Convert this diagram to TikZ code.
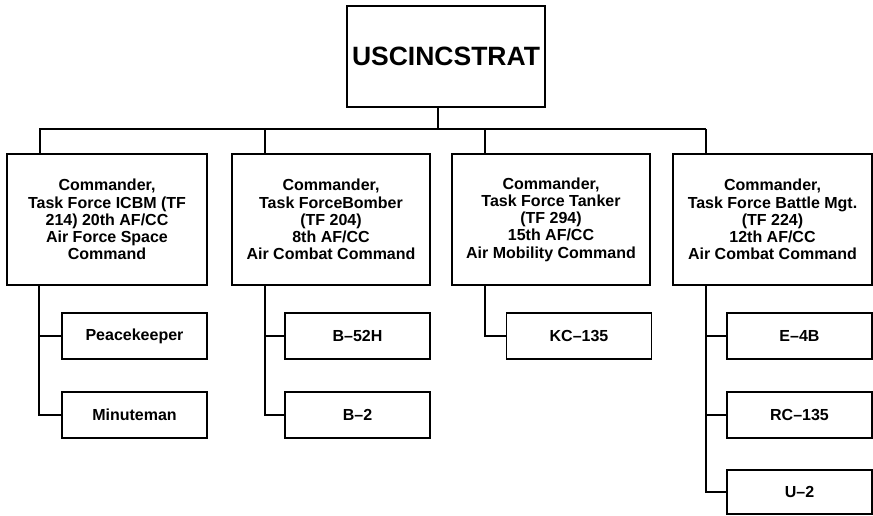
\documentclass[tikz,border=0pt]{standalone}
\usepackage{fontspec}
\setmainfont{Liberation Sans}
\begin{document}
\begin{tikzpicture}[x=1pt,y=1pt,
  line width=1.9pt,
  box/.style={draw, line width=1.9pt, inner sep=0pt, outer sep=0pt, align=center,
    font=\bfseries\fontsize{16}{17.2}\selectfont},
  cmd/.style={box, minimum height=131pt},
  leaf/.style={box, minimum width=145pt, minimum height=46pt},
  conn/.style={line width=1.9pt}]
\useasboundingbox (0,0) rectangle (873,-515);
% top
\node[box, minimum width=198pt, minimum height=101pt, font=\bfseries\fontsize{26.5}{30}\selectfont] (top) at (446,-56.5) {USCINCSTRAT};
% commanders
\node[cmd, minimum width=200pt] (c1) at (107,-219.5) {Commander,\\Task Force ICBM (TF\\214) 20th AF/CC\\Air Force Space\\Command};
\node[cmd, minimum width=198pt] (c2) at (331,-219.5) {Commander,\\Task ForceBomber\\(TF 204)\\8th AF/CC\\Air Combat Command};
\node[cmd, minimum width=198pt] (c3) at (551,-219.5) {Commander,\\Task Force Tanker\\(TF 294)\\15th AF/CC\\Air Mobility Command};
\node[cmd, minimum width=199pt] (c4) at (772.5,-219.5) {Commander,\\Task Force Battle Mgt.\\(TF 224)\\12th AF/CC\\Air Combat Command};
% leaves
\node[leaf] (pk) at (134.5,-336) {Peacekeeper};
\node[leaf] (mm) at (134.5,-415) {Minuteman};
\node[leaf] (b52) at (357.5,-336) {B–52H};
\node[leaf] (b2) at (357.5,-415) {B–2};
\node[leaf] (kc) at (579,-336) {KC–135};
\node[leaf] (e4) at (799.5,-336) {E–4B};
\node[leaf] (rc) at (799.5,-415) {RC–135};
\node[leaf, minimum height=44pt] (u2) at (799.5,-492) {U–2};
% bus
\coordinate (busL) at (39,-129);
\coordinate (busR) at (706,-129);
\draw[conn] (busL) -- (busR);
\draw[conn] ([xshift=-8pt]top.south) -- ([xshift=-8pt]top.south |- busL);
\foreach \c in {c1,c2,c3,c4}{
  \draw[conn] ([xshift=33pt]\c.north west) -- ([xshift=33pt]\c.north west |- busL);
}
% children
\draw[conn] ([xshift=32pt]c1.south west) |- (mm.west);
\draw[conn] ([xshift=32pt]c1.south west |- pk.west) -- (pk.west);
\draw[conn] ([xshift=33pt]c2.south west) |- (b2.west);
\draw[conn] ([xshift=33pt]c2.south west |- b52.west) -- (b52.west);
\draw[conn] ([xshift=33pt]c3.south west) |- (kc.west);
\draw[conn] ([xshift=33pt]c4.south west) |- (u2.west);
\draw[conn] ([xshift=33pt]c4.south west |- e4.west) -- (e4.west);
\draw[conn] ([xshift=33pt]c4.south west |- rc.west) -- (rc.west);
\end{tikzpicture}
\end{document}
